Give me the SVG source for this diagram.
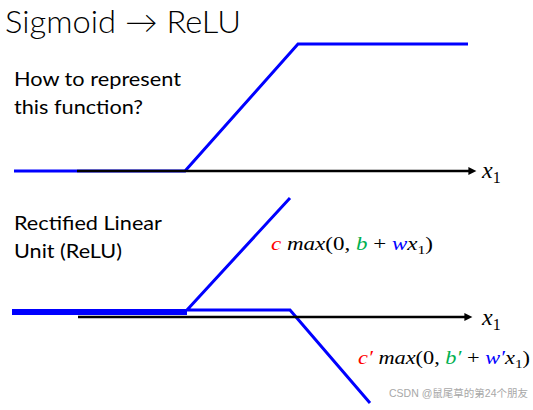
<svg xmlns="http://www.w3.org/2000/svg" width="533" height="410" viewBox="0 0 533 410">
<style>
.t{font-family:Lato,"Open Sans","Liberation Sans",sans-serif;fill:#000}
.m{font-family:"Liberation Serif","DejaVu Serif",serif;font-style:italic;font-size:19px;fill:#000}
.x{font-family:"Liberation Serif","DejaVu Serif",serif;font-style:italic;font-size:24px;fill:#000}
.n{font-style:normal}
.r{fill:#ff0000}.g{fill:#00b050}.b{fill:#0000ff}
.blue{stroke:#0000ff;stroke-width:3;fill:none;stroke-linejoin:miter}
.thick{stroke:#0000ff;stroke-width:6;fill:none}
.axis{stroke:#000;stroke-width:2.5;fill:none}
.wm{font-family:"Liberation Sans","Noto Sans CJK SC",sans-serif;font-size:10.5px;fill:#a8a8a8}
</style>
<defs>
<marker id="arr" viewBox="0 0 10 10" refX="2" refY="5" markerWidth="9" markerHeight="8" markerUnits="userSpaceOnUse" orient="auto">
<path d="M0,0 L10,5 L0,10 Z" fill="#000"/>
</marker>
</defs>
<g id="title"><text class="t" x="5" y="33" font-size="31" font-weight="300" textLength="236" lengthAdjust="spacingAndGlyphs">Sigmoid → ReLU</text></g>
<g id="question">
<text class="t" x="14" y="86" font-size="19" textLength="167" lengthAdjust="spacingAndGlyphs">How to represent</text>
<text class="t" x="14" y="114" font-size="19" textLength="129" lengthAdjust="spacingAndGlyphs">this function?</text>
</g>
<g id="relu-label">
<text class="t" x="14" y="230" font-size="19" textLength="148" lengthAdjust="spacingAndGlyphs">Rectified Linear</text>
<text class="t" x="14" y="258" font-size="19" textLength="108" lengthAdjust="spacingAndGlyphs">Unit (ReLU)</text>
</g>
<g id="connectors">
<polyline class="blue" points="14,171 185,171 298,44 468,44"/>
<line class="axis" x1="77" y1="171" x2="470" y2="171" marker-end="url(#arr)"/>
<line class="thick" x1="12" y1="312" x2="187" y2="312"/>
<polyline class="blue" points="290,198 187,310 290,310 370,403"/>
<line class="axis" x1="78" y1="317" x2="466" y2="317" marker-end="url(#arr)"/>
</g>
<g id="x1-top"><text class="x" x="482" y="178">x<tspan class="n" font-size="16" dy="5">1</tspan></text></g>
<g id="x1-bottom"><text class="x" x="482" y="325">x<tspan class="n" font-size="16" dy="5">1</tspan></text></g>
<g id="formula1"><text class="m" x="271" y="250" textLength="162" lengthAdjust="spacingAndGlyphs"><tspan class="r">c</tspan> max<tspan class="n">(0, </tspan><tspan class="g">b</tspan><tspan class="n"> + </tspan><tspan class="b">w</tspan>x<tspan class="n" font-size="13" dy="4">1</tspan><tspan class="n" dy="-4">)</tspan></text></g>
<g id="formula2"><text class="m" x="358" y="364" textLength="172" lengthAdjust="spacingAndGlyphs"><tspan class="r">c′</tspan> max<tspan class="n">(0, </tspan><tspan class="g">b′</tspan><tspan class="n"> + </tspan><tspan class="b">w′</tspan>x<tspan class="n" font-size="13" dy="4">1</tspan><tspan class="n" dy="-4">)</tspan></text></g>
<g id="watermark"><text class="wm" x="389" y="397">CSDN @鼠尾草的第24个朋友</text></g>
</svg>
